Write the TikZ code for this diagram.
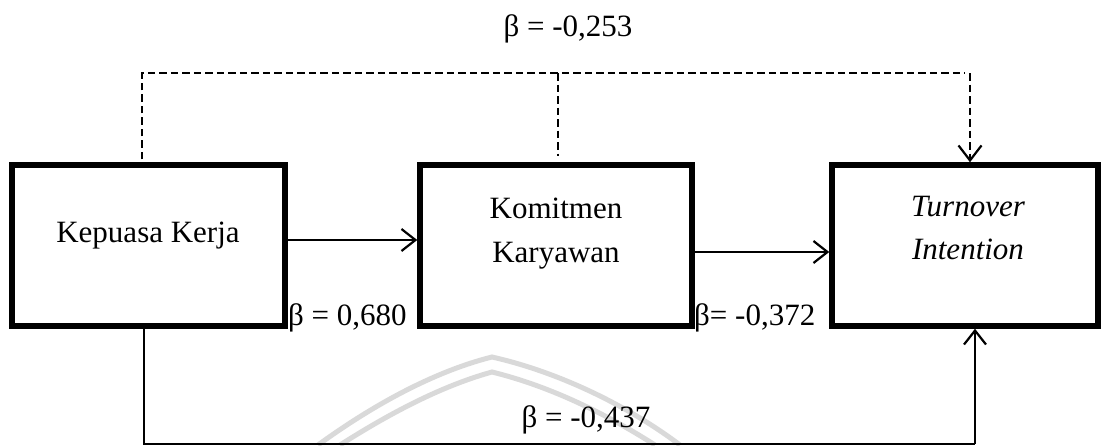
\documentclass[tikz,border=0pt]{standalone}
\usepackage{fontspec}
\setmainfont{Liberation Serif}
\usetikzlibrary{arrows.meta}
\tikzset{
  box/.style={draw, line width=5.5pt, inner sep=0pt, minimum height=161pt},
  lbl/.style={inner sep=0pt, font=\fontsize{31}{44}\selectfont},
  arr/.style={line width=2.2pt, -{Straight Barb[length=14pt,width=22pt]}},
  dsh/.style={line width=2.2pt, dash pattern=on 7.5pt off 4pt},
  thinln/.style={line width=1.3pt},
  wm/.style={draw=black!15, line width=5pt}
}
\begin{document}
\begin{tikzpicture}[x=1pt,y=-1pt]
\useasboundingbox (0,0) rectangle (1101,445);
% watermark
\draw[wm] (318,445) .. controls (380,400) and (440,370) .. (492,357) .. controls (550,370) and (620,400) .. (680,445);
\draw[wm] (340,445) .. controls (395,410) and (445,385) .. (492,372) .. controls (545,385) and (600,410) .. (655,445);
% boxes
\node[box, minimum width=273pt] (k1) at (148.5,245.5) {};
\node[box, minimum width=272pt] (k2) at (556,245.5) {};
\node[box, minimum width=266pt] (k3) at (965,245.5) {};
% texts
\node[lbl, anchor=base] (t1) at (148,242) {Kepuasa Kerja};
\node[lbl, anchor=north, align=center] (t2) at (556,198) {Komitmen\\Karyawan};
\node[lbl, anchor=north, align=center, font=\fontsize{31}{43}\selectfont\itshape] (t3) at (968,196) {Turnover\\Intention};
% coordinates
\coordinate (a1) at (0,240);
\coordinate (a2) at (0,252);
\coordinate (top) at (0,73);
\coordinate (bl) at (144,444);
\coordinate (br) at (975,444);
% solid arrows
\draw[arr] (k1.east |- a1) -- (k2.west |- a1);
\draw[arr] (k2.east |- a2) -- (k3.west |- a2);
% dashed path
\draw[dsh, -{Straight Barb[length=15pt,width=23pt]}] ([xshift=-6.5pt,yshift=3pt]k1.north) |- (top -| k3.north) ++(5,0) -- ([xshift=5pt]k3.north);
\draw[dsh] ([xshift=2pt]k2.north |- top) -- ([xshift=2pt,yshift=6pt]k2.north);
% bottom path
\draw[thinln] (k1.south -| bl) -- (bl) -- (br);
\draw[arr] (br) -- (k3.south -| br);
% beta labels
\node[lbl, anchor=base] (b0) at (568,36) {β = -0,253};
\node[lbl, anchor=base west] (b1) at (288,325) {β = 0,680};
\node[lbl, anchor=base west] (b2) at (694,325) {β= -0,372};
\node[lbl, anchor=base] (b3) at (586,427) {β = -0,437};
\end{tikzpicture}
\end{document}
